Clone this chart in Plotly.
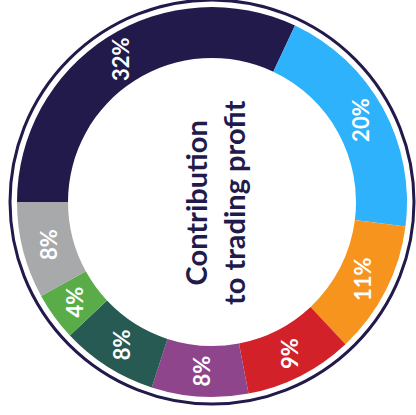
import math
import plotly.graph_objects as go

values = [32, 20, 11, 9, 8, 8, 4, 8]
labels = ["32%", "20%", "11%", "9%", "8%", "8%", "4%", "8%"]
colors = ["#221a4b", "#2db2fb", "#f7941e", "#d22129", "#8e458b", "#285a54", "#5aac48", "#a8a9ab"]
center_title = "Contribution<br>to trading profit"

W, H = 416, 415
cx, cy = 212, 202          # pixel center (from top)
r_out, r_in = 195, 144
ring_r = 202
start_deg = 270            # first slice starts at 9 o'clock, clockwise

fig = go.Figure()
fig.add_trace(go.Pie(
    values=values, labels=[f"s{i}" for i in range(len(values))],
    marker=dict(colors=colors, line=dict(width=0)),
    hole=r_in / r_out, sort=False, direction="clockwise", rotation=-90,
    textinfo="none", hoverinfo="skip", showlegend=False,
    domain=dict(x=[(cx - r_out) / W, (cx + r_out) / W],
                y=[(H - cy - r_out) / H, (H - cy + r_out) / H]),
))

total = sum(values)
cum = 0
r_mid = (r_out + r_in) / 2
for v, lab in zip(values, labels):
    mid = start_deg + (cum + v / 2) / total * 360
    cum += v
    a = math.radians(mid)
    px = cx + r_mid * math.sin(a)
    py = cy - r_mid * math.cos(a)
    fig.add_annotation(x=px / W, y=(H - py) / H, xref="paper", yref="paper",
                       xanchor="center", yanchor="middle",
                       text=lab, showarrow=False, textangle=-90,
                       font=dict(family="Lato", size=22, color="white", weight="bold"))

fig.add_annotation(x=(cx + 2) / W, y=(H - cy) / H, xref="paper", yref="paper",
                   xanchor="center", yanchor="middle",
                   text=center_title, showarrow=False, textangle=-90,
                   font=dict(family="Lato", size=29, color="#221a4b", weight="bold"))

fig.add_shape(type="circle", xref="paper", yref="paper",
              x0=(cx - ring_r) / W, x1=(cx + ring_r) / W,
              y0=(H - cy - ring_r) / H, y1=(H - cy + ring_r) / H,
              line=dict(color="#221a4b", width=3))

fig.update_layout(width=W, height=H, margin=dict(l=0, r=0, t=0, b=0),
                  paper_bgcolor="white", plot_bgcolor="white")
fig.write_html("out.html")
